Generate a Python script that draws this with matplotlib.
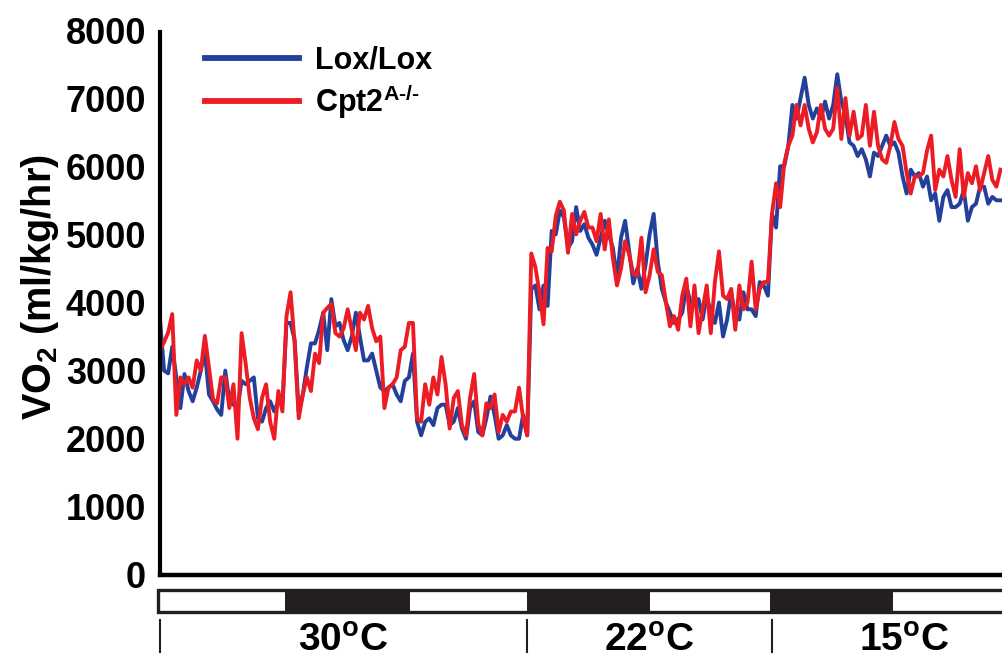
import numpy as np
import matplotlib
matplotlib.use("Agg")
import matplotlib.pyplot as plt
from matplotlib.patches import Rectangle

plt.rcParams['font.family'] = ['Liberation Sans', 'DejaVu Sans']
plt.rcParams['font.weight'] = 'bold'
plt.rcParams['mathtext.fontset'] = 'custom'
plt.rcParams['mathtext.rm'] = 'Liberation Sans:bold'
plt.rcParams['mathtext.bf'] = 'Liberation Sans:bold'
plt.rcParams['mathtext.it'] = 'Liberation Sans:bold'
plt.rcParams['mathtext.default'] = 'bf'

# ---------------- data ----------------
sample_interval_h = 0.4

lox_lox = [
    3750, 3000, 2960, 3350, 2900, 2450, 2950, 2700, 2550, 2750,
    3000, 3280, 2650, 2550, 2430, 2350, 3000, 2550, 2500, 2450,
    2850, 2800, 2850, 2900, 2300, 2250, 2450, 2550, 2400, 2550,
    2500, 3700, 3700, 3450, 2400, 2650, 3050, 3400, 3400, 3600,
    3850, 3300, 4050, 3650, 3700, 3450, 3300, 3500, 3850, 3500,
    3150, 3150, 3250, 3000, 2750, 2700, 2750, 2800, 2650, 2550,
    2850, 2900, 3250, 2250, 2050, 2250, 2300, 2200, 2450, 2500,
    2500, 2200, 2250, 2450, 2150, 2000, 2450, 2550, 2100, 2050,
    2300, 2620, 2350, 2000, 2050, 2200, 2050, 2000, 2000, 2350,
    2050, 4200, 4250, 3900, 4250, 3950, 5050, 5000, 5350, 5250,
    4800, 4900, 5400, 5050, 5150, 4950, 4850, 4700, 4950, 5200,
    5000, 4800, 4350, 4950, 5200, 4750, 4280, 4500, 4200, 4550,
    5000, 5300, 4600, 4200, 4000, 3850, 3700, 3750, 3850, 4250,
    4000, 3950, 4050, 3750, 4100, 3850, 3700, 4000, 3500, 3750,
    4150, 3800, 3750, 4150, 3900, 3900, 3800, 4300, 4250, 4100,
    5300, 5100, 6000, 6000, 6300, 6900, 6700, 7000, 7300, 6900,
    6700, 6850, 6700, 6950, 6700, 6900, 7350, 6950, 6750, 6350,
    6300, 6150, 6250, 6100, 5850, 6200, 6150, 6300, 6450, 6300,
    6350, 6200, 5850, 5600, 5950, 5850, 5900, 5700, 5850, 5500,
    5600, 5200, 5550, 5650, 5400, 5400, 5450, 5650, 5200, 5400,
    5450, 5700, 5700, 5450, 5550, 5500, 5500,
]

cpt2 = [
    3300, 3420, 3560, 3830, 2350, 2900, 2800, 2900, 2750, 3150,
    3000, 3510, 3050, 2580, 2520, 2900, 2900, 2450, 2800, 2000,
    3550, 3100, 2600, 2300, 2140, 2600, 2800, 2250, 2000, 2700,
    2400, 3800, 4150, 3400, 2300, 2650, 2900, 2700, 3250, 3110,
    3850, 3920, 3980, 3550, 3500, 3620, 3900, 3600, 3300, 3850,
    3750, 3950, 3620, 3430, 3500, 2450, 2750, 2800, 2900, 3300,
    3350, 3700, 3700, 2300, 2250, 2800, 2500, 2900, 2650, 3200,
    2800, 2150, 2600, 2700, 2200, 2050, 2600, 2950, 2220, 2050,
    2520, 2450, 2650, 2100, 2350, 2250, 2400, 2400, 2750, 2300,
    2050, 4720, 4520, 4150, 3680, 4800, 4750, 5270, 5480, 5350,
    4730, 5300, 5000, 5200, 5330, 5100, 5100, 4900, 5300, 4780,
    5220, 4650, 4250, 4500, 4900, 4700, 4420, 4400, 4950, 4150,
    4400, 4780, 4450, 4400, 4000, 3650, 3800, 3600, 4100, 4350,
    3650, 4250, 3550, 3900, 4250, 3550, 4300, 4750, 4100, 4050,
    4200, 3600, 4250, 3900, 4000, 4600, 3900, 4200, 4300, 4300,
    5300, 5750, 5400, 6040, 6300, 6450, 6900, 6600, 6900, 6550,
    6350, 6500, 6900, 6550, 6450, 6550, 7150, 6400, 7000, 6450,
    6800, 6400, 6450, 6900, 6300, 6800, 6300, 6100, 6050, 6300,
    6650, 6400, 6300, 5900, 5600, 5850, 5850, 5900, 6230, 6450,
    5650, 5950, 5850, 6150, 5800, 5550, 6250, 5550, 5900, 5750,
    6000, 5650, 5900, 6150, 5800, 5700, 5950,
]

series_labels = ['Lox/Lox', 'Cpt2$^{A\u2010/\u2010}$']
series_colors = ['#23409a', '#ed1c24']

dark_periods = [(12.25, 24.5), (36.0, 48.0), (59.8, 71.9)]
temp_boundaries = [0.0, 36.0, 60.0]
temp_labels = ['30', '22', '15']
temp_label_pos = [18.0, 48.0, 73.0]
y_ticks = [0, 1000, 2000, 3000, 4000, 5000, 6000, 7000, 8000]

# ---------------- figure ----------------
W, H = 1002, 662
fig = plt.figure(figsize=(W / 100, H / 100), dpi=100)
ax_left, ax_right, ax_top, ax_bot = 160, 1002, 30, 575
ax = fig.add_axes([ax_left / W, 1 - ax_bot / H, (ax_right - ax_left) / W, (ax_bot - ax_top) / H])

hours = np.arange(len(lox_lox)) * sample_interval_h
for vals, lab, col in zip([lox_lox, cpt2], series_labels, series_colors):
    ax.plot(hours, vals, color=col, lw=2.8, label=lab, solid_joinstyle='round')

xmax = (ax_right - ax_left) / 10.2
ax.set_xlim(0, xmax)
ax.set_ylim(0, 8000)
ax.set_yticks(y_ticks)
ax.set_yticklabels([str(v) for v in y_ticks], fontsize=26, fontweight='bold')
ax.tick_params(axis='y', length=0, pad=10)
ax.set_xticks([])
for s in ['top', 'right']:
    ax.spines[s].set_visible(False)
ax.spines['left'].set_linewidth(3.0)
ax.spines['bottom'].set_linewidth(3.2)
ax.spines['left'].set_bounds(0, 7970)

ax.set_ylabel('VO$_{2}$ (ml/kg/hr)', fontsize=28.5, fontweight='bold')
ax.yaxis.set_label_coords(-0.118, 0.528)

leg = ax.legend(loc='upper left', bbox_to_anchor=(0.054, 0.972), frameon=False,
                fontsize=22, handlelength=3.05, handletextpad=0.55, labelspacing=0.22,
                borderpad=0, borderaxespad=0)
for t in leg.get_texts():
    t.set_fontweight('bold')
for l in leg.get_lines():
    l.set_linewidth(4.2)

# light/dark bar
trans = ax.get_xaxis_transform()
bar_y0 = (ax_bot - 612) / (ax_bot - ax_top)
bar_y1 = (ax_bot - 590) / (ax_bot - ax_top)
ax.add_patch(Rectangle((-0.2, bar_y0), xmax + 1, bar_y1 - bar_y0, transform=trans,
                       facecolor='white', edgecolor='#231f20', lw=2.4, clip_on=False))
for a, b in dark_periods:
    ax.add_patch(Rectangle((a, bar_y0), b - a, bar_y1 - bar_y0, transform=trans,
                           facecolor='#231f20', edgecolor='#231f20', lw=0, clip_on=False))

# temperature markers
tk_y0 = (ax_bot - 652) / (ax_bot - ax_top)
tk_y1 = (ax_bot - 620) / (ax_bot - ax_top)
for xb in temp_boundaries:
    ax.plot([xb, xb], [tk_y0, tk_y1], transform=trans, color='#231f20', lw=1.5, clip_on=False)
lab_y = (ax_bot - 641) / (ax_bot - ax_top)
for xp, lab in zip(temp_label_pos, temp_labels):
    txt = '%s$^{\\mathregular{o}}$C' % lab
    ax.text(xp, lab_y, txt, transform=trans, ha='center', va='center', fontsize=28,
            fontweight='bold', clip_on=False)

fig.savefig('out.png', dpi=100)
